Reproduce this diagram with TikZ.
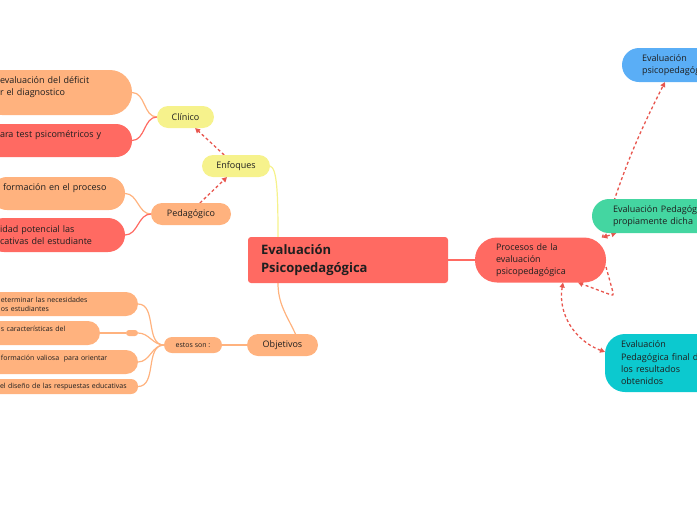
\documentclass[tikz,border=0pt]{standalone}
\usepackage{fontspec}
\setmainfont{Open Sans}
\usetikzlibrary{arrows.meta,positioning,calc,backgrounds}
\definecolor{mmred}{HTML}{FF6A62}
\definecolor{mmpeach}{HTML}{FFB27E}
\definecolor{mmyellow}{HTML}{F6F28C}
\definecolor{mmblue}{HTML}{5AAEF6}
\definecolor{mmgreen}{HTML}{44D6A1}
\definecolor{mmteal}{HTML}{0CC9CF}
\definecolor{mmdash}{HTML}{E8564E}
\definecolor{mmtext}{HTML}{1F1F1F}
\hyphenpenalty=10000
\exhyphenpenalty=10000

\begin{document}
\begin{tikzpicture}[x=1pt, y=1pt, font=\fontsize{9}{12.3}\selectfont, text=mmtext,
  pill/.style={rectangle, rounded corners=#1, inner ysep=0pt, outer sep=0pt, align=left},
  pill/.default=11pt,
  smalltxt/.style={font=\fontsize{7}{9}\selectfont},
  link/.style={line width=1.2pt},
  tip/.style={-{Triangle[length=5pt,width=5pt]}},
  dasharr/.style={draw=mmdash, line width=1.3pt, dash pattern=on 3pt off 2.5pt, tip}]
\useasboundingbox (0,0) rectangle (697,-520);
\clip (0,0) rectangle (697,-520);
% centro y procesos
\node[pill=3pt, fill=mmred, minimum width=200pt, minimum height=46pt, text width=174pt, inner xsep=13pt, font=\fontsize{13}{18}\selectfont\bfseries] (central) at (348,-260) {Evaluación\\Psicopedagógica};
\node[pill=22pt, fill=mmred, minimum height=45pt, text width=89pt, inner xsep=21pt, right=27pt of central] (procesos) {Procesos de la\\evaluación\\psicopedagógica};
\node[pill=17pt, fill=mmblue, minimum height=34pt, text width=80pt, inner xsep=20pt] (psico) at (682,-65) {Evaluación\\psicopedagógica};
\node[pill=17pt, fill=mmgreen, minimum height=34pt, text width=118pt, inner xsep=21pt] (propia) at (672,-216) {Evaluación Pedagógica\\propiamente dicha};
\node[pill=20pt, fill=mmteal, minimum height=58pt, text width=108pt, inner xsep=16pt] (final) at (675,-363) {Evaluación\\Pedagógica final de\\los resultados\\obtenidos};
% rama izquierda
\node[pill, fill=mmyellow, minimum width=68pt, minimum height=22pt] (enfoques) at (236,-166) {Enfoques};
\node[pill, fill=mmyellow, minimum width=57pt, minimum height=22pt] (clinico) at (185.5,-117) {Clínico};
\node[pill, fill=mmpeach, minimum width=80pt, minimum height=22pt] (pedagogico) at (191,-214) {Pedagógico};
\node[pill, fill=mmpeach, minimum width=71pt, minimum height=22pt] (objetivos) at (282.5,-345) {Objetivos};
\node[pill=8pt, smalltxt, fill=mmpeach, minimum width=58pt, minimum height=16pt, left=25pt of objetivos] (estos) {estos son :};
\node[pill=22pt, fill=mmpeach, anchor=east, minimum height=45pt, text width=112pt, inner xsep=20pt] (cliA) at (132,-92.5) {evaluación del déficit\\r el diagnostico\\\mbox{}};
\node[pill=16pt, fill=mmred, anchor=east, minimum height=33pt, text width=112pt, inner xsep=20pt] (cliB) at (132,-140.5) {ara test psicométricos y\\\mbox{}};
\node[pill=16pt, fill=mmpeach, anchor=east, minimum height=33pt, text width=110pt, inner xsep=12pt] (pedA) at (125,-193.5) {formación en el proceso\\\mbox{}};
\node[pill=17pt, fill=mmred, anchor=east, minimum height=34pt, text width=112pt, inner xsep=13pt] (pedB) at (125,-235) {idad potencial las\\cativas del estudiante};
% objetivos
\node[pill=12pt, smalltxt, fill=mmpeach, anchor=east, minimum height=24pt, text width=123pt, inner xsep=14pt] (objA) at (138,-304) {eterminar las necesidades\\os estudiantes};
\node[pill=12pt, smalltxt, fill=mmpeach, anchor=east, minimum height=24pt, text width=85pt, inner xsep=14pt] (objB) at (100,-333) {s características del\\\mbox{}};
\node[pill=3pt, fill=mmpeach, minimum width=12pt, minimum height=6pt, inner sep=0pt] (objBmark) at (132,-333) {};
\node[pill=12pt, smalltxt, fill=mmpeach, anchor=east, minimum height=24pt, text width=123pt, inner xsep=14pt] (objC) at (138,-362) {formación valiosa\ \ para orientar\\\mbox{}};
\node[pill=7pt, smalltxt, fill=mmpeach, anchor=east, minimum height=15pt, text width=130pt, inner xsep=8pt] (objD) at (138,-386.5) {el diseño de las respuestas educativas};
\begin{scope}[on background layer]
\draw[link, mmred] (central) -- (procesos);
\draw[link, mmyellow] (enfoques.east) .. controls +(7,-2) and +(0,45) .. ($(central.north west)+(30,0)$);
\draw[link, mmpeach] ($(central.south west)+(30,0)$) to[out=-90,in=115] ($(objetivos.north)+(13,0)$);
\draw[link, mmpeach] (cliA.east) to[out=0,in=180] (clinico.west);
\draw[link, mmred] (cliB.east) to[out=0,in=180] (clinico.west);
\draw[link, mmpeach] (pedA.east) to[out=0,in=180] (pedagogico.west);
\draw[link, mmred] (pedB.east) to[out=0,in=180] (pedagogico.west);
\draw[link, mmpeach] (objetivos) -- (estos);
\foreach \n in {objA,objBmark,objC,objD}
  \draw[link, mmpeach] (estos.west) to[out=180,in=0] (\n.east);
\draw[link, mmpeach] (objB) -- (objBmark);
% flechas
\draw[dasharr] (enfoques.137) -- (clinico.-49);
\draw[dasharr] (pedagogico.51) -- (enfoques.231);
\draw[dasharr] (procesos.20) to[bend left=5] (psico.-135);
\draw[dasharr, {Triangle[length=5pt,width=5pt]}-{Triangle[length=5pt,width=5pt]}] (procesos.20) -- (propia.197);
\draw[dasharr, rounded corners=3pt] (procesos.-6) -- (614,-296) -- (procesos.-31);
\draw[dasharr, {Triangle[length=5pt,width=5pt]}-{Triangle[length=5pt,width=5pt]}] (procesos.-45) to[out=-100,in=160] (final.171);
\end{scope}
\end{tikzpicture}
\end{document}
